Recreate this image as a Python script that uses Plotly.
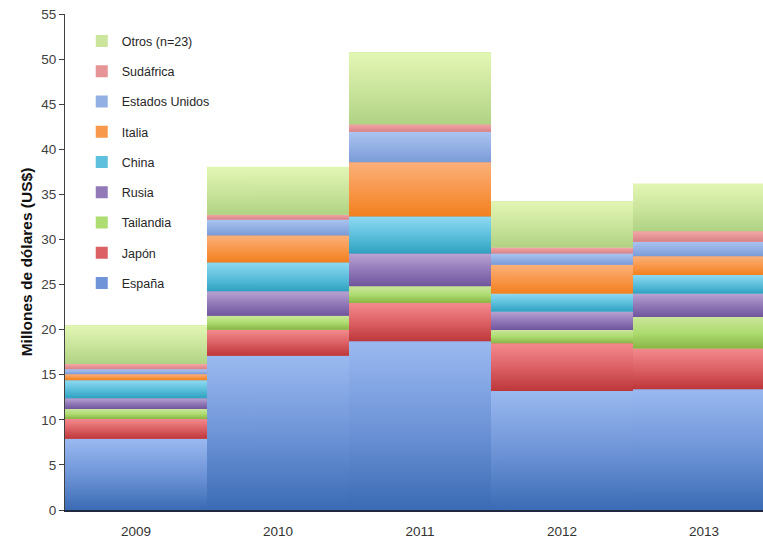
import plotly.graph_objects as go

# Annual values by country, millions of US dollars
years = ["2009", "2010", "2011", "2012", "2013"]
espana = [7.9, 17.1, 18.7, 13.2, 13.4]
japon = [2.2, 2.9, 4.25, 5.3, 4.5]
tailandia = [1.1, 1.55, 1.85, 1.45, 3.5]
rusia = [1.2, 2.7, 3.65, 2.05, 2.6]
china = [2.0, 3.2, 4.1, 2.0, 2.05]
italia = [0.65, 3.0, 6.0, 3.2, 2.1]
eeuu = [0.55, 1.75, 3.4, 1.25, 1.6]
sudafrica = [0.6, 0.55, 0.8, 0.65, 1.15]
otros = [4.3, 5.3, 8.0, 5.15, 5.3]

series_names = ["España", "Japón", "Tailandia", "Rusia", "China", "Italia",
                "Estados Unidos", "Sudáfrica", "Otros (n=23)"]
series_values = [espana, japon, tailandia, rusia, china, italia, eeuu, sudafrica, otros]

# (top, mid, bottom) colours of each vertical gradient
palette = [
    ("#9ab9f0", "#6f95d8", "#3a6bb4"),
    ("#f48a8e", "#dc6165", "#bd373a"),
    ("#cbe59b", "#addc70", "#8ab546"),
    ("#b8a4d3", "#9279b8", "#6f559c"),
    ("#8fd9f1", "#5ec0dc", "#2ea2c0"),
    ("#fbb07a", "#f8984c", "#f2801e"),
    ("#abc3f1", "#93b0e4", "#7b9bd6"),
    ("#f3a6a8", "#e69496", "#d88385"),
    ("#e3f6b4", "#cbe59d", "#b0d283"),
]

xpos = list(range(len(years)))
font_family = "Arial, Liberation Sans, sans-serif"
n_series = len(series_names)

fig = go.Figure()

# Stacked bars (solid mid tones, also used for the legend swatches);
# the top series is listed first in the legend
for k, (name, vals, (top, mid, bot)) in enumerate(zip(series_names, series_values, palette)):
    fig.add_trace(go.Bar(
        x=xpos, y=vals, name=name, legendgroup=name,
        legendrank=n_series - k,
        marker=dict(color=mid, line=dict(width=0)),
        width=1,
        hovertemplate=name + ": %{y}<extra></extra>",
    ))

# Gradient shading over every stacked segment
base = [0.0] * len(years)
for k, (name, vals, (top, mid, bot)) in enumerate(zip(series_names, series_values, palette)):
    for i, v in enumerate(vals):
        b = base[i]
        t = b + v
        fig.add_trace(go.Scatter(
            x=[i - 0.5, i + 0.5, i + 0.5, i - 0.5, i - 0.5],
            y=[b, b, t, t, b],
            mode="lines", fill="toself",
            line=dict(width=0),
            fillcolor=mid,
            fillgradient=dict(type="vertical",
                              colorscale=[[0, bot], [0.5, mid], [1, top]]),
            legendgroup=name, legendrank=n_series - k,
            showlegend=False, hoverinfo="skip",
        ))
        base[i] = t

fig.update_layout(
    width=763, height=539,
    margin=dict(l=65, r=0, t=14, b=29),
    paper_bgcolor="white", plot_bgcolor="white",
    barmode="stack", bargap=0,
    font=dict(family=font_family, size=12, color="#404040"),
    showlegend=True,
    legend=dict(
        traceorder="grouped",
        tracegroupgap=11.0,
        x=0.024, y=0.975, xanchor="left", yanchor="top",
        bgcolor="rgba(0,0,0,0)", borderwidth=0,
        font=dict(family=font_family, size=12.5, color="#262626"),
    ),
    xaxis=dict(
        range=[-0.5, -0.5 + 698 / 142],
        tickmode="array", tickvals=xpos, ticktext=years,
        showgrid=False, zeroline=False,
        showline=True, linecolor="#1f2940", linewidth=1.5,
        ticks="", ticklabelstandoff=8,
        tickfont=dict(size=13.5, color="#333333"),
    ),
    yaxis=dict(
        range=[0, 55], dtick=5,
        showgrid=False, zeroline=False,
        showline=True, linecolor="#404040", linewidth=1,
        ticks="outside", ticklen=5, tickcolor="#404040",
        tickfont=dict(size=13.5, color="#404040"),
        title=dict(text="<b>Millones de dólares (US$)</b>",
                   font=dict(size=15.5, color="#111111"), standoff=4),
    ),
)

fig.write_html("out.html")
